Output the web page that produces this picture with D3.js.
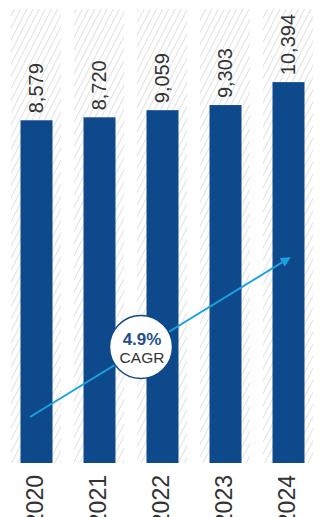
<!DOCTYPE html>
<html>
<head>
<meta charset="utf-8">
<script src="https://cdn.jsdelivr.net/npm/d3@7"></script>
<style>
  html, body { margin: 0; padding: 0; background: #fff; }
  svg { display: block; }
  text { font-family: "Liberation Sans", Arial, Helvetica, sans-serif; }
</style>
</head>
<body>
<div id="chart"></div>
<script>
// ---- data ----
const years = ["2020", "2021", "2022", "2023", "2024"];
const values = [8579, 8720, 9059, 9303, 10394];
const valueLabels = ["8,579", "8,720", "9,059", "9,303", "10,394"];
const cagrValue = ["4.9%"];
const cagrLabel = ["CAGR"];

const W = 320, H = 517;
const svg = d3.select("#chart").append("svg").attr("width", W).attr("height", H);

// scales
const colScale = d3.scaleBand().domain(years).range([11, 313]).paddingInner(13 / 63).paddingOuter(0);
const barW = 32;
const plotTop = 9, plotBottom = 463;
const y = d3.scaleLinear().domain([-7726, 13873]).range([plotBottom, plotTop]);

// hatch pattern
const defs = svg.append("defs");
const pat = defs.append("pattern")
  .attr("id", "hatch").attr("patternUnits", "userSpaceOnUse")
  .attr("width", 5.5).attr("height", 5.5)
  .attr("patternTransform", "rotate(27)");
pat.append("line").attr("x1", 0.5).attr("y1", 0).attr("x2", 0.5).attr("y2", 5.5)
  .attr("stroke", "#e0e0e0").attr("stroke-width", 1.1);

defs.append("marker")
  .attr("id", "arrowhead").attr("viewBox", "0 0 10 10")
  .attr("refX", 8).attr("refY", 5)
  .attr("markerWidth", 5).attr("markerHeight", 5)
  .attr("markerUnits", "strokeWidth")
  .attr("orient", "auto")
  .append("path").attr("d", "M0,0 L10,5 L0,10 Z").attr("fill", "#1aa3e0");

// background hatched columns
svg.append("g").selectAll("rect").data(years).join("rect")
  .attr("x", d => colScale(d)).attr("y", plotTop)
  .attr("width", colScale.bandwidth()).attr("height", plotBottom - plotTop)
  .attr("fill", "url(#hatch)");

// bars
const cx = d => colScale(d) + colScale.bandwidth() / 2;
svg.append("g").selectAll("rect").data(years).join("rect")
  .attr("x", d => cx(d) - barW / 2 + 0.5)
  .attr("y", (d, i) => y(values[i]))
  .attr("width", barW)
  .attr("height", (d, i) => plotBottom - y(values[i]))
  .attr("fill", "#0e4a8b");

// value labels (rotated)
svg.append("g").selectAll("text").data(years).join("text")
  .attr("transform", (d, i) => `translate(${cx(d)},${y(values[i]) - 7}) rotate(-90)`)
  .attr("dy", "0.35em")
  .attr("text-anchor", "start")
  .attr("font-size", 20)
  .attr("fill", "#333")
  .text((d, i) => valueLabels[i]);

// year labels (rotated)
svg.append("g").selectAll("text").data(years).join("text")
  .attr("transform", d => `translate(${cx(d) - 1},475) rotate(-90)`)
  .attr("dy", "0.35em")
  .attr("text-anchor", "end")
  .attr("font-size", 23)
  .attr("fill", "#333")
  .text(d => d);

// CAGR arrow annotation
const x0 = cx(years[0]) - 6, y0 = 417;
const x1 = cx(years[years.length - 1]) + 3, y1 = 257;
svg.append("line")
  .attr("x1", x0).attr("y1", y0).attr("x2", x1 - 2).attr("y2", y1 + 1.2)
  .attr("stroke", "#1aa3e0").attr("stroke-width", 2)
  .attr("marker-end", "url(#arrowhead)");

const ccx = 141, ccy = 347;
svg.append("circle").attr("cx", ccx).attr("cy", ccy).attr("r", 31.5)
  .attr("fill", "#fff").attr("stroke", "#0e4a8b").attr("stroke-width", 1.5);
svg.append("text").attr("x", ccx + 1).attr("y", ccy - 2)
  .attr("text-anchor", "middle").attr("font-size", 17).attr("font-weight", "bold")
  .attr("fill", "#1f4f8f").text(cagrValue[0]);
svg.append("text").attr("x", ccx + 1).attr("y", ccy + 16)
  .attr("text-anchor", "middle").attr("font-size", 15.5)
  .attr("fill", "#333").text(cagrLabel[0]);
</script>
</body>
</html>
